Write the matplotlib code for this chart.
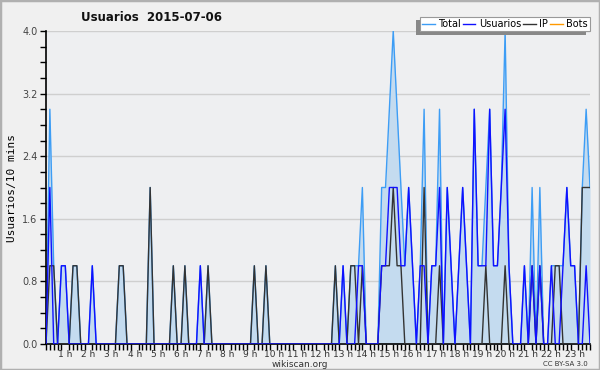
import matplotlib
matplotlib.use('Agg')
import matplotlib.pyplot as plt
from matplotlib.lines import Line2D
from matplotlib.patches import Rectangle

# valores cada 10 minutos (una fila por hora)
usuarios = [
    0, 2, 0, 0, 1, 1,
    0, 0, 0, 0, 0, 0,
    1, 0, 0, 0, 0, 0,
    0, 0, 0, 0, 0, 0,
    0, 0, 0, 0, 0, 0,
    0, 0, 0, 0, 0, 0,
    0, 0, 0, 0, 1, 0,
    0, 0, 0, 0, 0, 0,
    0, 0, 0, 0, 0, 0,
    0, 0, 0, 0, 0, 0,
    0, 0, 0, 0, 0, 0,
    0, 0, 0, 0, 0, 0,
    0, 0, 0, 0, 0, 1,
    0, 0, 0, 1, 1, 0,
    0, 0, 0, 1, 1, 2,
    2, 2, 1, 1, 2, 1,
    0, 1, 1, 0, 1, 1,
    2, 0, 2, 1, 0, 1,
    2, 1, 0, 3, 1, 1,
    1, 3, 1, 1, 2, 3,
    1, 0, 0, 0, 1, 0,
    1, 0, 1, 0, 0, 1,
    0, 0, 1, 2, 1, 1,
    0, 0, 1, 0,
]
ip = [
    0, 1, 1, 0, 0, 0,
    0, 1, 1, 0, 0, 0,
    0, 0, 0, 0, 0, 0,
    0, 1, 1, 0, 0, 0,
    0, 0, 0, 2, 0, 0,
    0, 0, 0, 1, 0, 0,
    1, 0, 0, 0, 0, 0,
    1, 0, 0, 0, 0, 0,
    0, 0, 0, 0, 0, 0,
    1, 0, 0, 1, 0, 0,
    0, 0, 0, 0, 0, 0,
    0, 0, 0, 0, 0, 0,
    0, 0, 0, 1, 0, 0,
    0, 1, 1, 0, 1, 0,
    0, 0, 0, 1, 1, 1,
    2, 1, 1, 0, 0, 0,
    0, 0, 2, 0, 0, 0,
    1, 0, 0, 0, 0, 0,
    0, 0, 0, 0, 0, 0,
    1, 0, 0, 0, 0, 1,
    0, 0, 0, 0, 0, 0,
    1, 0, 1, 0, 0, 0,
    1, 1, 0, 0, 0, 0,
    0, 2, 2, 2,
]
total = [
    0, 3, 1, 0, 1, 1,
    0, 1, 1, 0, 0, 0,
    1, 0, 0, 0, 0, 0,
    0, 1, 1, 0, 0, 0,
    0, 0, 0, 2, 0, 0,
    0, 0, 0, 1, 0, 0,
    1, 0, 0, 0, 1, 0,
    1, 0, 0, 0, 0, 0,
    0, 0, 0, 0, 0, 0,
    1, 0, 0, 1, 0, 0,
    0, 0, 0, 0, 0, 0,
    0, 0, 0, 0, 0, 0,
    0, 0, 0, 1, 0, 1,
    0, 1, 1, 1, 2, 0,
    0, 0, 0, 2, 2, 3,
    4, 3, 2, 1, 2, 1,
    0, 1, 3, 0, 1, 1,
    3, 0, 2, 1, 0, 1,
    2, 1, 0, 3, 1, 1,
    2, 3, 1, 1, 2, 4,
    1, 0, 0, 0, 1, 0,
    2, 0, 2, 0, 0, 1,
    1, 1, 1, 2, 1, 1,
    0, 2, 3, 2,
]
hour_labels = ['%d h' % h for h in range(1, 24)]
y_ticks = [0.0, 0.8, 1.6, 2.4, 3.2, 4.0]

c_total = '#3d9df5'
c_fill = '#c4dbef'
c_users = '#1010ff'
c_ip = '#333333'
c_bots = '#ff9900'

x = list(range(len(total)))

fig = plt.figure(figsize=(6, 3.7), dpi=100, facecolor='#f0f0f0')
ax = fig.add_axes([46 / 600, 1 - 344 / 370, 544 / 600, 313 / 370])
ax.set_facecolor('#eeeff1')

ax.fill_between(x, total, 0, color=c_fill, lw=0, zorder=1)
ax.plot(x, total, color=c_total, lw=1.0, zorder=2)
ax.plot(x, ip, color=c_ip, lw=1.0, zorder=3)
ax.plot(x, usuarios, color=c_users, lw=1.0, zorder=4)

ax.set_xlim(0, len(total) - 1)
ax.set_ylim(0, 4.0)

ax.set_yticks(y_ticks)
ax.set_yticklabels(['%.1f' % v for v in y_ticks])
ax.set_yticks([i * 0.2 for i in range(21)], minor=True)
ax.yaxis.grid(True, color='#cfcfcf', lw=1)
ax.set_axisbelow(True)

# etiquetas de hora (algo desplazadas a la izquierda como en el original)
ax.set_xticks([6 * h - 1 for h in range(1, 24)])
ax.set_xticklabels(hour_labels)
ax.set_xticks(x, minor=True)
ax.tick_params(axis='both', which='both', direction='out', length=4, width=1, color='black')
ax.tick_params(axis='x', which='major', length=0, pad=4)
ax.tick_params(axis='x', labelsize=6.5, labelcolor='#333333')
ax.tick_params(axis='y', labelsize=7, labelcolor='#444444', pad=2)

for s in ['top', 'right']:
    ax.spines[s].set_visible(False)
ax.spines['left'].set_linewidth(1.2)
ax.spines['bottom'].set_linewidth(1.2)

ax.set_ylabel('Usuarios/10 mins', family='DejaVu Sans Mono', fontsize=8, labelpad=4)

fig.text(0.252, 0.953, 'Usuarios  2015-07-06', ha='center', va='center',
         fontsize=8.5, fontweight='bold', color='#111111')
fig.text(0.5, 0.015, 'wikiscan.org', ha='center', va='center', fontsize=6.5, color='#333333')
fig.text(0.98, 0.015, 'CC BY-SA 3.0', ha='right', va='center', fontsize=5, color='#333333')

# sombra de la leyenda
fig.patches.append(Rectangle((416 / 600, 1 - 34.7 / 370), 170 / 600, 15 / 370,
                             transform=fig.transFigure, facecolor='#888888',
                             edgecolor='none', zorder=5))

handles = [Line2D([], [], color=c_total, lw=1.0),
           Line2D([], [], color=c_users, lw=1.0),
           Line2D([], [], color=c_ip, lw=1.0),
           Line2D([], [], color=c_bots, lw=1.0)]
leg = fig.legend(handles, ['Total', 'Usuarios', 'IP', 'Bots'], ncol=4,
                 loc='upper right', bbox_to_anchor=(589.5 / 600, 1 - 17 / 370),
                 fontsize=7, handlelength=1.3, handletextpad=0.35, columnspacing=0.2,
                 borderpad=0.2, borderaxespad=0, fancybox=False, framealpha=1,
                 edgecolor='#999999')
leg.get_frame().set_linewidth(0.8)
leg.set_zorder(6)

# marco de la figura
fig.patches.append(Rectangle((0, 0), 1, 1, transform=fig.transFigure, fill=False,
                             edgecolor='#b0b0b0', lw=2.5))

fig.savefig('out.png', dpi=100, facecolor=fig.get_facecolor())
